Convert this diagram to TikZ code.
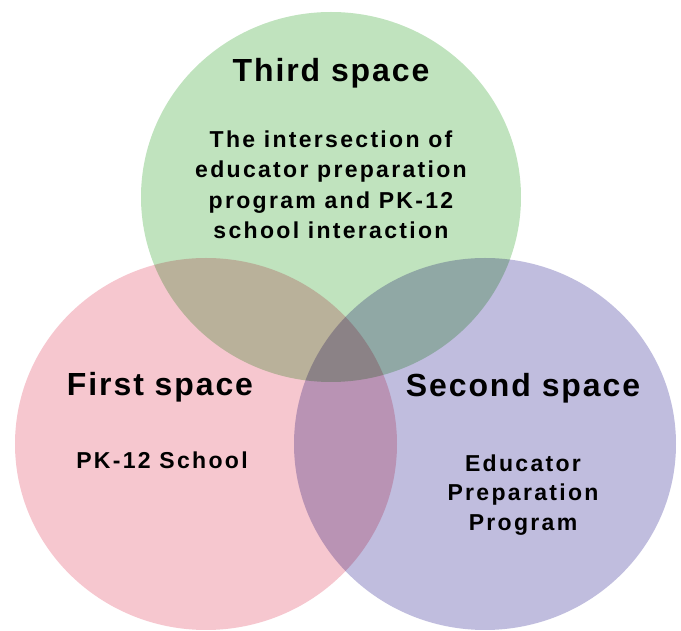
\documentclass[tikz,border=0pt]{standalone}
\usepackage{fontspec}
\setmainfont{Liberation Sans}
\definecolor{greenfill}{RGB}{192,227,190}
\definecolor{pinkfill}{RGB}{246,199,207}
\definecolor{purplefill}{RGB}{192,189,222}
\begin{document}
\begin{tikzpicture}[x=0.02cm, y=-0.02cm, line join=round, line cap=round]
	\useasboundingbox (0,0) rectangle (681,631);
	% Ba vong tron
	\begin{scope}[blend group=multiply]
		\fill[pinkfill] (206,444) ellipse [x radius=191, y radius=186];
		\fill[purplefill] (485,444) ellipse [x radius=191, y radius=186];
		\fill[greenfill] (331,197) ellipse [x radius=190, y radius=185];
	\end{scope}
	% Tieu de
	\node[anchor=base, inner sep=0, font=\fontsize{18.2}{22}\selectfont\bfseries\addfontfeature{LetterSpace=6}] (third) at (331,82) {Third space};
	\node[anchor=base, inner sep=0, font=\fontsize{18.2}{22}\selectfont\bfseries\addfontfeature{LetterSpace=6}] (first) at (160,396) {First space};
	\node[anchor=base, inner sep=0, font=\fontsize{18.2}{22}\selectfont\bfseries\addfontfeature{LetterSpace=6}] (second) at (523,397) {Second space};
	% Noi dung
	\node[anchor=north, inner sep=0, align=center, font=\fontsize{13.1}{17.4}\selectfont\bfseries\addfontfeature{LetterSpace=10}] (thirdtext) at (331,130) {The intersection of\\educator preparation\\program and PK-12\\school interaction};
	\node[anchor=base, inner sep=0, font=\fontsize{13.1}{17.4}\selectfont\bfseries\addfontfeature{LetterSpace=10}] (firsttext) at (162,469) {PK-12 School};
	\node[anchor=north, inner sep=0, align=center, font=\fontsize{13.1}{16.8}\selectfont\bfseries\addfontfeature{LetterSpace=10}] (secondtext) at (523,454) {Educator\\Preparation\\Program};
\end{tikzpicture}
\end{document}
